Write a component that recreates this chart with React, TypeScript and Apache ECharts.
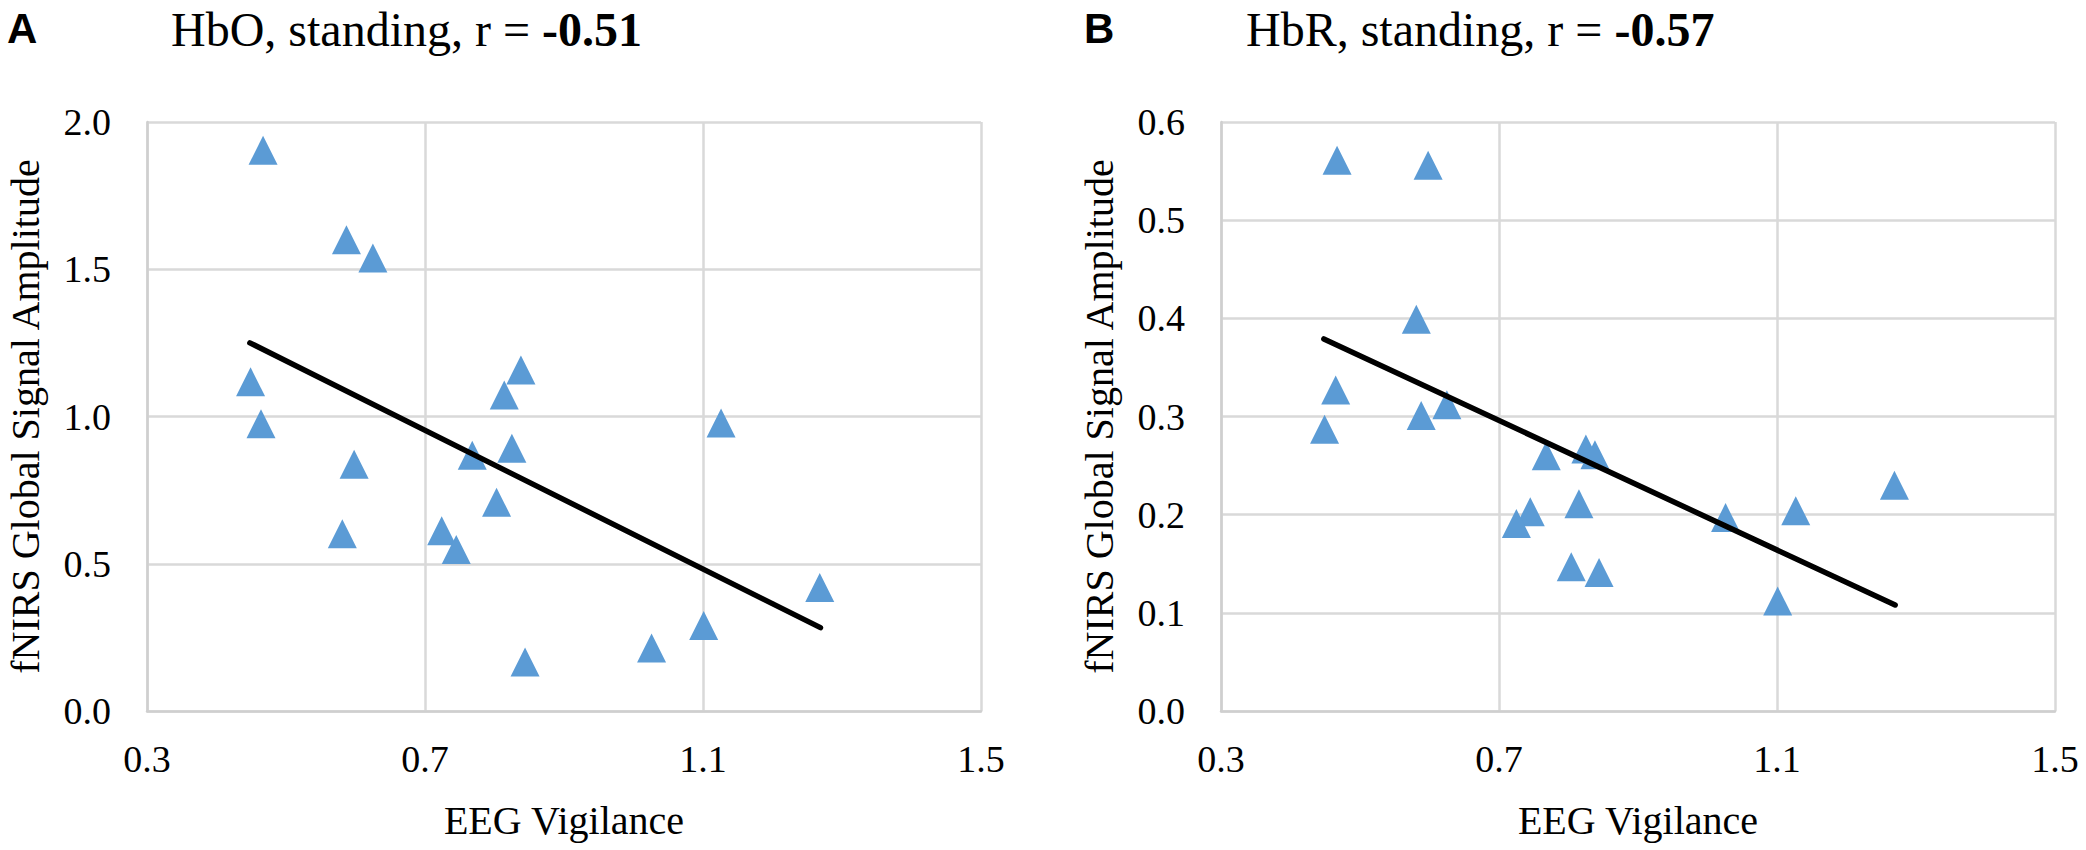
import React, { useEffect, useRef } from "react";
import * as echarts from "echarts";

// ---- Data ----
const xTicks = [0.3, 0.7, 1.1, 1.5];
const hboYTicks = [0.0, 0.5, 1.0, 1.5, 2.0];
const hbrYTicks = [0.0, 0.1, 0.2, 0.3, 0.4, 0.5, 0.6];

const hboVigilance = [0.467, 0.587, 0.625, 0.449, 0.838, 0.814, 0.464, 0.598, 0.581, 0.768, 0.825, 0.803, 0.724, 0.745, 0.844, 1.026, 1.126, 1.268, 1.101];
const hboAmplitude = [1.904, 1.6, 1.538, 1.118, 1.158, 1.073, 0.975, 0.838, 0.602, 0.868, 0.892, 0.709, 0.612, 0.548, 0.166, 0.214, 0.978, 0.419, 0.29];

const hbrVigilance = [0.467, 0.598, 0.581, 0.465, 0.449, 0.588, 0.625, 0.768, 0.825, 0.838, 0.745, 0.725, 0.815, 0.804, 0.844, 1.026, 1.127, 1.269, 1.101];
const hbrAmplitude = [0.561, 0.556, 0.399, 0.327, 0.287, 0.301, 0.312, 0.26, 0.267, 0.261, 0.203, 0.191, 0.211, 0.147, 0.141, 0.197, 0.204, 0.23, 0.112];

const hboTrendX = [0.448, 1.269];
const hboTrendY = [1.25, 0.283];
const hbrTrendX = [0.448, 1.27];
const hbrTrendY = [0.379, 0.108];

const panelLetters = ["A", "B"];
const panelTitles = ["HbO, standing, r = ", "HbR, standing, r = "];
const panelR = ["-0.51", "-0.57"];
const xName = "EEG Vigilance";
const yName = "fNIRS Global Signal Amplitude";

const SERIF = "'Liberation Serif', 'Times New Roman', serif";
const SANS = "'Liberation Sans', Arial, sans-serif";
const BLUE = "#5B9BD5";
const GRID = "#D9D9D9";

function pairs(xs: number[], ys: number[]) {
  return xs.map((x, i) => [x, ys[i]]);
}

export default function App() {
  const ref = useRef<HTMLDivElement>(null);

  useEffect(() => {
    if (!ref.current) return;
    const chart = echarts.init(ref.current, null, { renderer: "svg" });

    const axisLine = { show: true, lineStyle: { color: "#CFCFCF", width: 2.5 } };
    const splitLine = { show: true, lineStyle: { color: GRID, width: 2.5 } };
    const tickLabel = (margin: number) => ({
      fontFamily: SERIF,
      fontSize: 38,
      color: "#000",
      margin,
      formatter: (v: number) => v.toFixed(1),
    });

    const makeX = (gridIndex: number) => ({
      type: "value",
      gridIndex,
      min: xTicks[0],
      max: xTicks[xTicks.length - 1],
      interval: Math.round((xTicks[1] - xTicks[0]) * 10) / 10,
      axisLine,
      axisTick: { show: false },
      splitLine,
      axisLabel: tickLabel(29),
      name: xName,
      nameLocation: "middle",
      nameGap: 89,
      nameTextStyle: { fontFamily: SERIF, fontSize: 40, color: "#000" },
    });

    const makeY = (gridIndex: number, ticks: number[]) => ({
      type: "value",
      gridIndex,
      min: ticks[0],
      max: ticks[ticks.length - 1],
      interval: Math.round((ticks[1] - ticks[0]) * 10) / 10,
      axisLine,
      axisTick: { show: false },
      splitLine,
      axisLabel: tickLabel(36),
      name: yName,
      nameLocation: "middle",
      nameGap: 102,
      nameTextStyle: { fontFamily: SERIF, fontSize: 40, color: "#000" },
    });

    const titleText = (i: number) => ({
      text: `{n|${panelTitles[i]}}{b|${panelR[i]}}`,
      top: 5,
      padding: 0,
      textStyle: {
        fontFamily: SERIF,
        fontWeight: "normal",
        fontSize: 48,
        color: "#000",
        rich: {
          n: { fontFamily: SERIF, fontSize: 48, fontWeight: "normal", color: "#000" },
          b: { fontFamily: SERIF, fontSize: 48, fontWeight: "bold", color: "#000" },
        },
      },
    });

    const letterStyle = { fontFamily: SANS, fontWeight: "bold", fontSize: 42, color: "#000" };

    chart.setOption({
      animation: false,
      backgroundColor: "#fff",
      title: [
        { text: panelLetters[0], left: 7, top: 7, padding: 0, textStyle: letterStyle },
        { ...titleText(0), left: 171 },
        { text: panelLetters[1], left: 1084, top: 7, padding: 0, textStyle: letterStyle },
        { ...titleText(1), left: 1246 },
      ],
      grid: [
        { left: 147, right: 1105, top: 122, bottom: 139, containLabel: false },
        { left: 1221, right: 31, top: 122, bottom: 139, containLabel: false },
      ],
      xAxis: [makeX(0), makeX(1)],
      yAxis: [makeY(0, hboYTicks), makeY(1, hbrYTicks)],
      series: [
        {
          type: "scatter",
          xAxisIndex: 0,
          yAxisIndex: 0,
          symbol: "triangle",
          symbolSize: 29,
          itemStyle: { color: BLUE, opacity: 1 },
          data: pairs(hboVigilance, hboAmplitude),
          z: 2,
        },
        {
          type: "line",
          xAxisIndex: 0,
          yAxisIndex: 0,
          symbol: "none",
          lineStyle: { color: "#000", width: 5.5, cap: "round" },
          data: pairs(hboTrendX, hboTrendY),
          z: 3,
        },
        {
          type: "scatter",
          xAxisIndex: 1,
          yAxisIndex: 1,
          symbol: "triangle",
          symbolSize: 29,
          itemStyle: { color: BLUE, opacity: 1 },
          data: pairs(hbrVigilance, hbrAmplitude),
          z: 2,
        },
        {
          type: "line",
          xAxisIndex: 1,
          yAxisIndex: 1,
          symbol: "none",
          lineStyle: { color: "#000", width: 5.5, cap: "round" },
          data: pairs(hbrTrendX, hbrTrendY),
          z: 3,
        },
      ],
    });

    return () => chart.dispose();
  }, []);

  return (
    <div
      ref={ref}
      style={{ position: "fixed", left: 0, top: 0, width: 2086, height: 850, background: "#fff" }}
    />
  );
}
